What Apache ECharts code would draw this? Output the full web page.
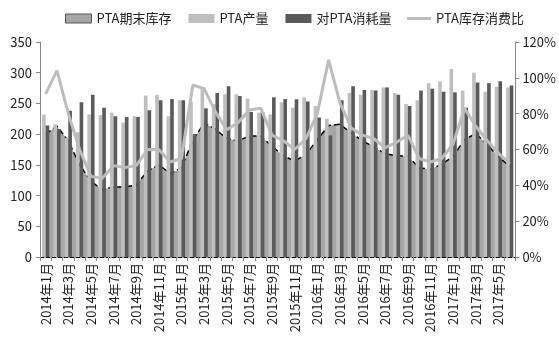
<!DOCTYPE html>
<html><head><meta charset="utf-8">
<script src="https://cdn.jsdelivr.net/npm/echarts@6/dist/echarts.min.js"></script>
<style>html,body{margin:0;padding:0;background:#fff}#c{width:559px;height:362px}</style>
</head><body><div id="c"></div>
<script>
const months = ['2014年1月','2014年2月','2014年3月','2014年4月','2014年5月','2014年6月','2014年7月','2014年8月','2014年9月','2014年10月','2014年11月','2014年12月',
'2015年1月','2015年2月','2015年3月','2015年4月','2015年5月','2015年6月','2015年7月','2015年8月','2015年9月','2015年10月','2015年11月','2015年12月',
'2016年1月','2016年2月','2016年3月','2016年4月','2016年5月','2016年6月','2016年7月','2016年8月','2016年9月','2016年10月','2016年11月','2016年12月',
'2017年1月','2017年2月','2017年3月','2017年4月','2017年5月','2017年6月'];
const inventory = [200,213,189,150,123,110,114,114,117,140,150,136,145,190,218,208,193,189,197,197,180,165,156,167,191,214,216,202,189,179,168,165,164,145,143,151,164,191,201,183,163,148];
const production = [232,216,194,203,232,231,235,219,229,263,264,229,255,253,273,249,265,265,258,235,232,252,243,260,246,225,214,267,264,272,276,267,249,255,283,286,306,271,300,269,277,276];
const consumption = [214,208,238,252,264,243,229,228,228,239,255,257,255,200,242,267,278,262,236,236,260,257,257,253,227,198,255,278,272,271,276,264,246,271,274,269,268,243,284,283,286,279];
const ratio = [91,104,80,60,45,44,51,50,51,60,60,53,55,96,94,81,71,75,82,83,68,65,60,66,80,110,86,72,68,66,61,64,68,55,53,55,63,83,73,65,58,52];
const leftTicks = {min:0,max:350,interval:50};
const rightTicks = {min:0,max:120,interval:20};

const font = '"Noto Sans CJK SC", "Noto Sans", sans-serif';
const chart = echarts.init(document.getElementById('c'), null, {renderer:'canvas'});
const legendText = {fontSize:13,color:'#222',fontFamily:font};
chart.setOption({
  animation:false,
  textStyle:{fontFamily:font},
  legend:[
    {
      top:7, left:60, itemGap:17, itemWidth:26, itemHeight:9,
      textStyle:legendText,
      data:[
        {name:'PTA期末库存',icon:'rect',itemStyle:{color:'#a6a6a6',borderColor:'#555',borderWidth:1}},
        {name:'PTA产量',icon:'rect',itemStyle:{color:'#bfbfbf'}},
        {name:'对PTA消耗量',icon:'rect',itemStyle:{color:'#5a5a5a'}}
      ]
    },
    {
      top:7, left:402, itemWidth:24, itemHeight:3,
      textStyle:legendText,
      data:[{name:'PTA库存消费比',icon:'rect',itemStyle:{color:'#bdbdbd'}}]
    }
  ],
  grid:{left:40,right:41,top:42,bottom:105,containLabel:false},
  xAxis:{
    type:'category', data:months, boundaryGap:true,
    axisLine:{lineStyle:{color:'#000',type:'dashed',width:1}},
    axisTick:{show:true,interval:0,length:4,lineStyle:{color:'#888'}},
    axisLabel:{interval:1,rotate:90,fontSize:13,color:'#222',fontFamily:font,margin:6}
  },
  yAxis:[
    {type:'value',min:leftTicks.min,max:leftTicks.max,interval:leftTicks.interval,
     splitLine:{show:false},
     axisLine:{show:true,lineStyle:{color:'#888'}},
     axisTick:{show:true,length:4,lineStyle:{color:'#888'}},
     axisLabel:{fontSize:13,color:'#222',margin:8,fontFamily:font}},
    {type:'value',min:rightTicks.min,max:rightTicks.max,interval:rightTicks.interval,position:'right',
     splitLine:{show:false},
     axisLine:{show:true,lineStyle:{color:'#888'}},
     axisTick:{show:true,length:4,lineStyle:{color:'#888'}},
     axisLabel:{fontSize:13,color:'#222',margin:7,formatter:'{value}%',fontFamily:font}}
  ],
  series:[
    {name:'PTA期末库存',type:'line',data:inventory,yAxisIndex:0,symbol:'none',z:1,
     lineStyle:{color:'#000',type:'dashed',width:1.5},
     itemStyle:{color:'#a6a6a6'},
     areaStyle:{color:'#a6a6a6',opacity:1}},
    {name:'PTA产量',type:'bar',data:production,yAxisIndex:0,barGap:'0%',barCategoryGap:'36%',z:2,
     itemStyle:{color:'#bfbfbf'}},
    {name:'对PTA消耗量',type:'bar',data:consumption,yAxisIndex:0,z:2,
     itemStyle:{color:'#5a5a5a'}},
    {name:'PTA库存消费比',type:'line',data:ratio,yAxisIndex:1,symbol:'none',z:3,
     lineStyle:{color:'#bdbdbd',width:3},itemStyle:{color:'#bdbdbd'}}
  ]
});
</script></body></html>
